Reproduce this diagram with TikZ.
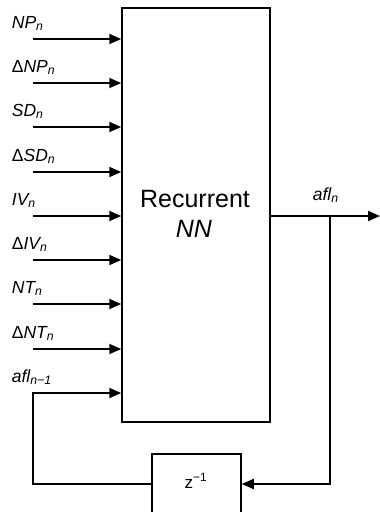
\documentclass[tikz,border=0pt]{standalone}
\usepackage{fontspec}
\setmainfont{Liberation Sans}
\usetikzlibrary{arrows.meta}
\begin{document}
\begin{tikzpicture}[x=1pt,y=-1pt,
  line width=1.8pt,
  arr/.style={-{Triangle[length=12pt,width=10pt]}},
  blk/.style={draw,line width=1.5pt,inner sep=0pt},
  lab/.style={anchor=base west,inner sep=0pt,font=\fontsize{17.5}{20}\selectfont\itshape},
  big/.style={anchor=base,inner sep=0pt,font=\fontsize{25}{29}\selectfont}]
\clip (0,0) rectangle (380,512);
\useasboundingbox (0,0) rectangle (380,512);
% main block
\node[blk,minimum width=148pt,minimum height=414pt] (nn) at (196,215) {};
\node[big] (t1) at (195,207) {Recurrent};
\node[big] (t2) at (194,237) {\itshape NN};
% input coordinates
\foreach \i/\y in {0/39,1/83,2/127,3/172,4/216,5/260,6/304,7/349,8/393}{
  \coordinate (in\i) at (33,\y);
}
\foreach \i in {0,...,7}{
  \draw[arr] (in\i) -- (in\i -| nn.west);
}
% labels
\node[lab] (l0) at (11,28) {NP\textsubscript{n}};
\node[lab] (l1) at (11,72) {\upshape Δ\itshape NP\textsubscript{n}};
\node[lab] (l2) at (11,116) {SD\textsubscript{n}};
\node[lab] (l3) at (11,161) {\upshape Δ\itshape SD\textsubscript{n}};
\node[lab] (l4) at (11,205) {IV\textsubscript{n}};
\node[lab] (l5) at (11,249) {\upshape Δ\itshape IV\textsubscript{n}};
\node[lab] (l6) at (11,293) {NT\textsubscript{n}};
\node[lab] (l7) at (11,338) {\upshape Δ\itshape NT\textsubscript{n}};
\node[lab] (l8) at (11,382) {afl\textsubscript{n−1}};
\node[lab] (lo) at (312,200) {afl\textsubscript{n}};
% delay block
\node[blk,minimum width=89pt,minimum height=60pt] (zb) at (196.5,484) {};
\node[anchor=base,inner sep=0pt,font=\fontsize{17}{20}\selectfont] (zt) at (196,488) {z\textsuperscript{−1}};
% output
\coordinate (out) at (380,216);
\coordinate (br) at (330,216);
\coordinate (bb) at (330,484);
\coordinate (fl) at (33,484);
\draw[arr] (nn.east |- out) -- (out);
\draw[arr] (br) -- (bb) -- (zb.east);
\draw[arr] (zb.west) -- (fl) -- (in8) -- (in8 -| nn.west);
\end{tikzpicture}
\end{document}
